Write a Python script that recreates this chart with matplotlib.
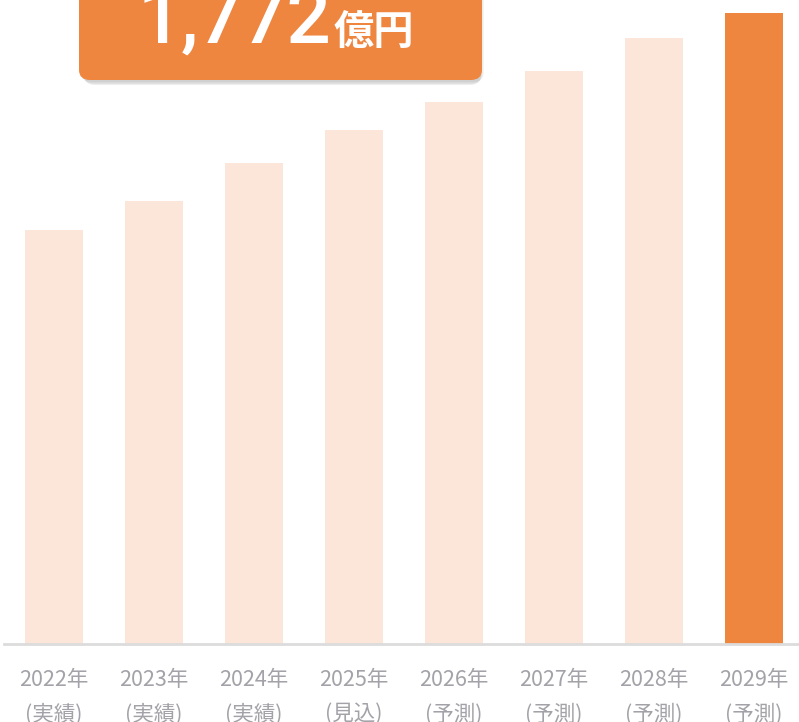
import matplotlib.pyplot as plt
from matplotlib.patches import FancyBboxPatch

# データ
years = ['2022年', '2023年', '2024年', '2025年', '2026年', '2027年', '2028年', '2029年']
kinds = ['(実績)', '(実績)', '(実績)', '(見込)', '(予測)', '(予測)', '(予測)', '(予測)']
values = [1160, 1242, 1348, 1443, 1520, 1607, 1699, 1772]
highlight = '1,772'
unit = '億円'

light = '#FCE6D9'
orange = '#EF8640'
gray = '#A2A2A8'

W, H = 799, 722
fig = plt.figure(figsize=(W / 100, H / 100), dpi=100)

# 軸の位置(ピクセル基準)
base_y = 643.5
ax = fig.add_axes([4 / W, (H - base_y) / H, 795 / W, base_y / H])
top_px = 631.0
ax.set_ylim(0, base_y * values[-1] / top_px)
ax.set_xlim(-0.5, 7.45)

colors = [light] * (len(values) - 1) + [orange]
ax.bar(range(len(values)), values, width=0.58, color=colors, zorder=2)

for s in ['top', 'right', 'left']:
    ax.spines[s].set_visible(False)
ax.spines['bottom'].set_color('#DCDCDC')
ax.spines['bottom'].set_linewidth(2)
ax.set_yticks([])
ax.set_xticks(range(len(values)))
ax.set_xticklabels([f'{y}\n{k}' for y, k in zip(years, kinds)],
                   fontsize=15.5, color=gray, linespacing=1.72,
                   family=['Noto Sans CJK JP', 'DejaVu Sans'])
ax.tick_params(axis='x', length=0, pad=18)

# 吹き出しボックス
for i, a in enumerate([0.06, 0.06, 0.08, 0.1]):
    off = 1 + i
    sh = FancyBboxPatch(((79 + off + 1) / W, (H - 80 - off - 1) / H),
                        (403 - 2 * i) / W, 140 / H,
                        boxstyle='round,pad=0,rounding_size=0.014',
                        transform=fig.transFigure, facecolor='#555555',
                        edgecolor='none', alpha=a, zorder=5)
    fig.patches.append(sh)
box = FancyBboxPatch((79 / W, (H - 80) / H), 403 / W, 140 / H,
                     boxstyle='round,pad=0,rounding_size=0.014',
                     transform=fig.transFigure, facecolor=orange,
                     edgecolor='none', zorder=6)
fig.patches.append(box)

fig.text(331 / W, (H - 43) / H, highlight, ha='right', va='baseline',
         fontsize=56, color='white', fontweight='medium', family='Roboto',
         zorder=7)
fig.text(334 / W, (H - 44) / H, unit, ha='left', va='baseline',
         fontsize=29, color='white', fontweight='bold',
         family='Noto Sans CJK JP', zorder=7)

fig.savefig('out.png', dpi=100)
